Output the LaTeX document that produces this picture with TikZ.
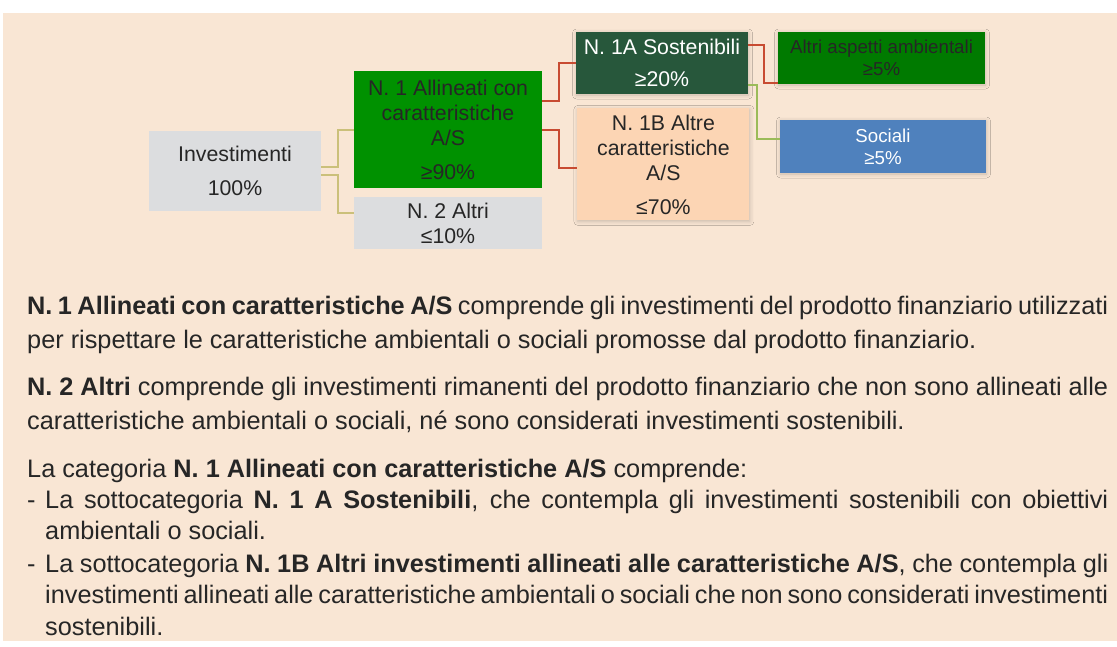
\documentclass[tikz,border=0pt]{standalone}
\usepackage{fontspec}
\setmainfont{Liberation Sans}
\usetikzlibrary{positioning, shadows.blur}

\definecolor{bgbeige}{HTML}{F9E6D4}
\definecolor{txtdark}{HTML}{262626}
\definecolor{boxgray}{HTML}{DCDDDF}
\definecolor{boxgreen}{HTML}{009100}
\definecolor{boxdark}{HTML}{27573B}
\definecolor{boxpeach}{HTML}{FCD5B4}
\definecolor{boxenv}{HTML}{007A00}
\definecolor{boxblue}{HTML}{4F81BD}
\definecolor{linekhaki}{HTML}{CBC07A}
\definecolor{linered}{HTML}{C84B31}
\definecolor{lineolive}{HTML}{9BBB59}

\begin{document}
\begin{tikzpicture}[
  x=1pt, y=-1pt,
  every node/.style={inner sep=0pt, align=center, text=txtdark},
  box/.style={rectangle, font=\fontsize{21.3}{25}\selectfont},
  smallbox/.style={rectangle, font=\fontsize{18.7}{22}\selectfont},
  soft/.style={blur shadow={shadow xshift=0.5pt, shadow yshift=-1pt, shadow blur radius=4pt, shadow opacity=20}},
  conn/.style={line width=2pt},
  para/.style={anchor=base west, text width=1081pt, align=justify, font=\fontsize{25.3}{34}\selectfont},
  itemtext/.style={para, text width=1063pt, font=\fontsize{25.3}{31.5}\selectfont},
  bullet/.style={anchor=base west, font=\fontsize{25.3}{31.5}\selectfont}
]

% page and panel
\fill[white] (0,0) rectangle (1117,646);
\fill[bgbeige] (3,13) rectangle (1117,641);
\useasboundingbox (0,0) rectangle (1117,646);

% boxes of the tree
\node[box, fill=boxgray, minimum width=172pt, minimum height=80pt] (inv) at (235,171)
  {Investimenti\\[9pt]100\%};
\node[box, fill=boxgreen, minimum width=188pt, minimum height=117pt] (n1) at (448,129.5)
  {N. 1 Allineati con\\caratteristiche\\A/S\\[9pt]≥90\%};
\node[box, fill=boxgray, minimum width=188pt, minimum height=52pt, below=9pt of n1] (n2)
  {N. 2 Altri\\≤10\%};
\node[box, soft, fill=boxdark, text=white, minimum width=172pt, minimum height=62pt] (n1a) at (662,63)
  {N. 1A Sostenibili\\[7pt]≥20\%};
\node[box, soft, fill=boxpeach, minimum width=172pt, minimum height=112pt, below right=14pt and -171pt of n1a] (n1b)
  {N. 1B Altre\\caratteristiche\\A/S\\[9pt]≤70\%};
\node[smallbox, soft, fill=boxenv, minimum width=207pt, minimum height=52pt] (env) at (881.5,58)
  {Altri aspetti ambientali\\≥5\%};
\node[smallbox, soft, fill=boxblue, text=white, minimum width=206pt, minimum height=53pt] (soc) at (883,146.5)
  {Sociali\\≥5\%};

% connectors
\draw[conn, linekhaki] ([yshift=4pt]inv.east) -- ++(17,0) |- (n1.west);
\draw[conn, linekhaki] ([yshift=-4pt]inv.east) -- ++(17,0) |- ([yshift=10pt]n2.west);
\draw[conn, linered] ([yshift=28.5pt]n1.east) -- ++(17,0) |- (n1a.west);
\draw[conn, linered] (n1.east) -- ++(17,0) |- ([yshift=-4pt]n1b.west);
\draw[conn, linered] ([yshift=18pt]n1a.east) -- ++(16,0) |- ([yshift=1pt]env.south west);
\draw[conn, lineolive] ([yshift=-22pt]n1a.east) -- ++(9,0) |- ([yshift=7.5pt]soc.west);

% explanatory text
\node[para] (p1) at (27,314)
  {\textbf{N. 1 Allineati con caratteristiche A/S} comprende gli investimenti del prodotto finanziario utilizzati\linebreak
   per rispettare le caratteristiche ambientali o sociali promosse dal prodotto finanziario.};
\node[para] (p2) at (27,395)
  {\textbf{N. 2 Altri} comprende gli investimenti rimanenti del prodotto finanziario che non sono allineati alle\linebreak
   caratteristiche ambientali o sociali, né sono considerati investimenti sostenibili.};
\node[para] (p3) at (27,477)
  {La categoria \textbf{N. 1 Allineati con caratteristiche A/S} comprende:};
\node[bullet] (d1) at (27,508) {-};
\node[itemtext] (li1) at (45,508)
  {La sottocategoria \textbf{N. 1 A Sostenibili}, che contempla gli investimenti sostenibili con obiettivi\linebreak
   ambientali o sociali.};
\node[bullet] (d2) at (27,572) {-};
\node[itemtext] (li2) at (45,572)
  {La sottocategoria \textbf{N. 1B Altri investimenti allineati alle caratteristiche A/S}, che contempla gli\linebreak
   investimenti allineati alle caratteristiche ambientali o sociali che non sono considerati investimenti\linebreak
   sostenibili.};

\end{tikzpicture}
\end{document}
